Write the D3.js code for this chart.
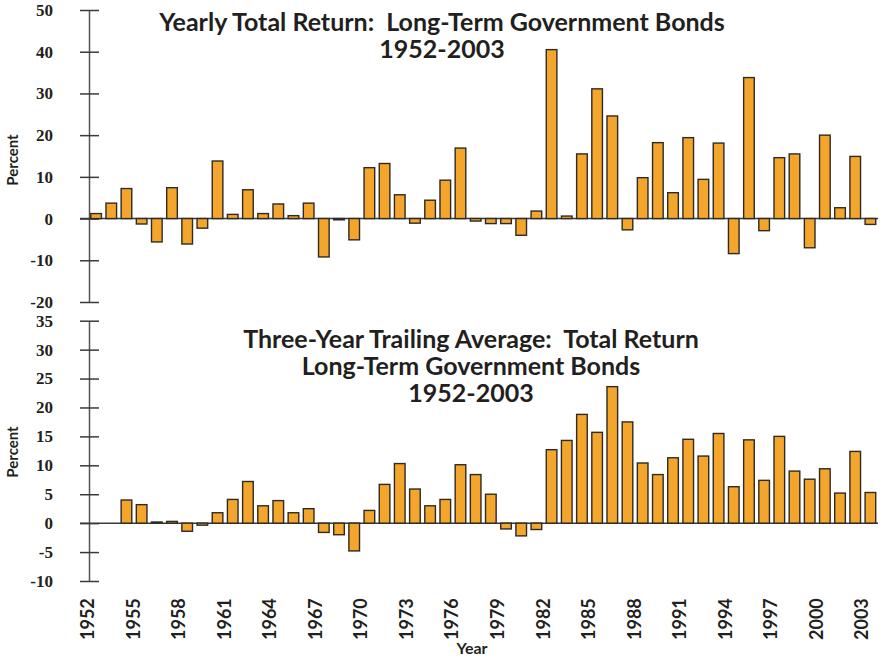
<!DOCTYPE html>
<html><head><meta charset="utf-8">
<script src="https://cdn.jsdelivr.net/npm/d3@7"></script>
<style>
html,body{margin:0;padding:0;background:#fff;}
text{font-family:Lato,"Open Sans",sans-serif;font-weight:bold;fill:#231f20;white-space:pre;}
text.serif{font-family:"Liberation Serif","DejaVu Serif",serif;}
</style></head><body>
<svg id="chart" width="884" height="659"></svg>
<script>
const years = d3.range(1952, 2004);
const yearlyReturn = [1.2,3.7,7.2,-1.3,-5.6,7.4,-6.1,-2.3,13.8,1.0,6.9,1.2,3.5,0.7,3.7,-9.2,-0.3,-5.1,12.2,13.2,5.7,-1.1,4.4,9.2,16.9,-0.6,-1.2,-1.2,-4.0,1.8,40.5,0.6,15.5,31.1,24.6,-2.7,9.8,18.2,6.2,19.4,9.4,18.1,-8.4,33.8,-2.9,14.6,15.5,-7.0,20.0,2.6,14.9,-1.4];
const trailingAvg = [null,null,4.0,3.2,0.2,0.3,-1.4,-0.35,1.8,4.1,7.2,3.0,3.9,1.8,2.5,-1.6,-2.0,-4.8,2.2,6.7,10.3,5.9,3.0,4.1,10.1,8.4,5.0,-1.0,-2.2,-1.1,12.7,14.3,18.8,15.7,23.6,17.5,10.4,8.4,11.3,14.5,11.6,15.5,6.3,14.4,7.4,15.0,9.0,7.6,9.4,5.2,12.4,5.3];
const topTicks = [-20,-10,0,10,20,30,40,50];
const botTicks = [-10,-5,0,5,10,15,20,25,30,35];
const yearLabels = d3.range(1952, 2004, 3);
const topTitle = ["Yearly Total Return:  Long-Term Government Bonds","1952-2003"];
const botTitle = ["Three-Year Trailing Average:  Total Return","Long-Term Government Bonds","1952-2003"];

const svg = d3.select("#chart");
const x = d3.scaleBand().domain(years).range([88.5, 878]).paddingInner(0.3).paddingOuter(0.15);
const yTop = d3.scaleLinear().domain([-20,50]).range([302,10]);
const yBot = d3.scaleLinear().domain([-10,35]).range([581,320.7]);

const barFill = "#F4A62C", barStroke = "#2e2a25", axisCol = "#3a3a3a";

function panel(y, ticks, data) {
  const g = svg.append("g");
  const ax = g.append("g").attr("transform","translate(89,0)")
    .call(d3.axisLeft(y).tickValues(ticks).tickSizeInner(9).tickSizeOuter(0).tickPadding(27).tickFormat(d => String(d)));
  ax.attr("font-family", null);
  ax.select(".domain").attr("stroke", "#555").attr("stroke-width",1.5);
  ax.selectAll(".tick line").attr("stroke", axisCol).attr("stroke-width",1.5);
  ax.selectAll(".tick").append("line").attr("x1",0).attr("x2",10).attr("stroke",axisCol).attr("stroke-width",1.5);
  ax.selectAll(".tick text").attr("class","serif").style("font-size","17px").attr("fill","#231f20");
  g.append("line").attr("x1",80).attr("x2",878).attr("y1",y(0)).attr("y2",y(0)).attr("stroke",axisCol).attr("stroke-width",1.5);
  const rows = years.map((yr,i)=>({yr, v:data[i]})).filter(d=>d.v!==null);
  g.selectAll("rect.bar").data(rows).enter().append("rect").attr("class","bar")
    .attr("x", d=>x(d.yr)).attr("width", x.bandwidth())
    .attr("y", d=>Math.min(y(d.v), y(0)))
    .attr("height", d=>Math.abs(y(d.v)-y(0)))
    .attr("fill", barFill).attr("stroke", barStroke).attr("stroke-width",1.4);
}
panel(yTop, topTicks, yearlyReturn);
panel(yBot, botTicks, trailingAvg);

// titles
svg.append("g").selectAll("text").data(topTitle).enter().append("text")
  .attr("x",442).attr("y",(d,i)=>31+i*27).attr("text-anchor","middle").style("font-size","25px").text(d=>d);
svg.append("g").selectAll("text").data(botTitle).enter().append("text")
  .attr("x",471).attr("y",(d,i)=>348+i*27).attr("text-anchor","middle").style("font-size","25px").text(d=>d);

// y labels
[160, 452].forEach(cy=>{
  svg.append("text").attr("transform",`translate(18,${cy}) rotate(-90)`).attr("text-anchor","middle")
    .style("font-size","15px").text("Percent");
});

// year labels
svg.append("g").selectAll("text").data(yearLabels).enter().append("text")
  .attr("transform", d=>`translate(${x(d)-3.2},640) rotate(-90)`)
  .attr("dy","0.36em").attr("text-anchor","start").style("font-size","18px").text(d=>d);
svg.append("text").attr("x",472).attr("y",654).attr("text-anchor","middle").style("font-size","16px").text("Year");
</script>
</body></html>
